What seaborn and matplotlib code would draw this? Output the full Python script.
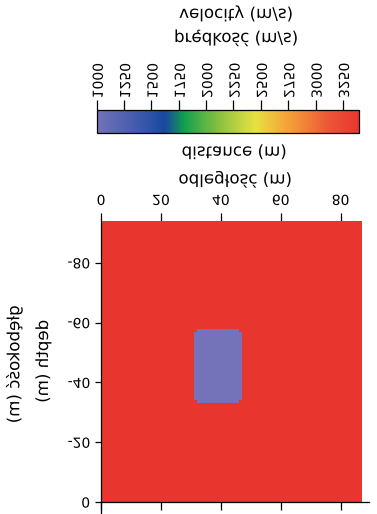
import numpy as np
import pandas as pd
import matplotlib
matplotlib.use("Agg")
import matplotlib.pyplot as plt
import matplotlib.text as mtext
from matplotlib.colors import LinearSegmentedColormap
from matplotlib.patheffects import AbstractPathEffect
from matplotlib.transforms import Affine2D
import seaborn as sns

# velocity model (m/s), 1 m cells
x_size = 87
depth_size = 94
v_background = 3400
v_anomaly = 1000
anomaly_x = (31, 47)
anomaly_depth = (33, 58)

# colour scale
v_min, v_max = 1000, 3400
cbar_ticks = [1000, 1250, 1500, 1750, 2000, 2250, 2500, 2750, 3000, 3250]
cmap_values = [1000, 1490, 1620, 1800, 2120, 2450, 2760, 3130, 3400]
cmap_colors = ['#7472b8', '#2f52a8', '#1848a0', '#12a04c', '#8cc040',
               '#e8e142', '#f4a038', '#ec5536', '#e8362f']

x_ticks = [0, 20, 40, 60, 80]
depth_ticks = [0, 20, 40, 60, 80]
depth_labels = ['0', '-20', '-40', '-60', '-80']


class FlipV(AbstractPathEffect):
    """mirror each text line top-to-bottom around its own centre"""
    def draw_path(self, renderer, gc, tpath, affine, rgbFace=None):
        ext = tpath.get_extents(affine)
        cy = (ext.y0 + ext.y1) / 2
        flip = Affine2D().translate(0, -cy).scale(1, -1).translate(0, cy)
        renderer.draw_path(gc, tpath, affine + flip, rgbFace)


# build the model grid
grid = np.full((depth_size, x_size), v_background, dtype=float)
x0, x1 = anomaly_x
d0, d1 = anomaly_depth
grid[d0:d1, x0:x1] = v_anomaly
for r in (d0, d1 - 1):
    for c in (x0, x1 - 1):
        grid[r, c] = v_background
model = pd.DataFrame(grid)

pos = [(v - v_min) / (v_max - v_min) for v in cmap_values]
cmap = LinearSegmentedColormap.from_list('velocity', list(zip(pos, cmap_colors)))

sns.set_style('white')
plt.rcParams['font.family'] = ['DejaVu Sans']

W, H = 377, 514
fig = plt.figure(figsize=(W / 100, H / 100), dpi=100)
ax = fig.add_axes([101 / W, 0, 268 / W, 293 / H])
cax = fig.add_axes([96.7 / W, 1 - 133 / H, 262.6 / W, 23 / H])

sns.heatmap(model, ax=ax, cbar_ax=cax, cmap=cmap, vmin=v_min, vmax=v_max,
            cbar_kws={'orientation': 'horizontal'},
            xticklabels=False, yticklabels=False)

ax.set_xlim(0, 89.5)
ax.set_ylim(-4, depth_size)
ax.set_xticks(x_ticks, [str(v) for v in x_ticks])
ax.set_yticks(depth_ticks, depth_labels)
ax.set_xlabel('')
ax.set_ylabel('')
ax.tick_params(axis='x', top=True, labeltop=True, bottom=True, labelbottom=False,
               direction='out', length=5.8, width=0.9, pad=3.6, labelsize=10,
               colors='black', labelrotation=0)
ax.tick_params(axis='y', left=True, labelleft=True, direction='out', length=4.3,
               width=0.9, pad=3.6, labelsize=10, colors='black', labelrotation=0)
for side in ['left', 'bottom']:
    ax.spines[side].set_visible(True)
    ax.spines[side].set_color('black')
    ax.spines[side].set_linewidth(0.9)
ax.spines['bottom'].set_position(('data', 0))
ax.spines['top'].set_visible(False)
ax.spines['right'].set_visible(False)

cbar = ax.collections[0].colorbar
cbar.set_ticks(cbar_ticks)
cax.xaxis.set_ticks_position('top')
cax.tick_params(axis='x', direction='out', length=7, width=0.9, pad=2,
                labelsize=10, labelrotation=-90, colors='black')
cbar.outline.set_visible(True)
cbar.outline.set_linewidth(0.9)
cbar.outline.set_edgecolor('black')

kw = dict(ha='center', va='center', fontsize=12, color='black')
fig.text(236 / W, 1 - 13 / H, 'velocity (m/s)', **kw)
fig.text(236 / W, 1 - 37.5 / H, 'prędkość (m/s)', **kw)
fig.text(234 / W, 1 - 152 / H, 'distance (m)', **kw)
fig.text(235 / W, 1 - 179 / H, 'odległość (m)', **kw)
fig.text(14 / W, 1 - 364 / H, 'głębokość (m)', rotation=90, **kw)
fig.text(43 / W, 1 - 361 / H, 'depth (m)', rotation=90, **kw)

fig.canvas.draw()
for t in fig.findobj(mtext.Text):
    t.set_path_effects([FlipV()])

fig.savefig('out.png', dpi=100, facecolor='white')
plt.close(fig)
